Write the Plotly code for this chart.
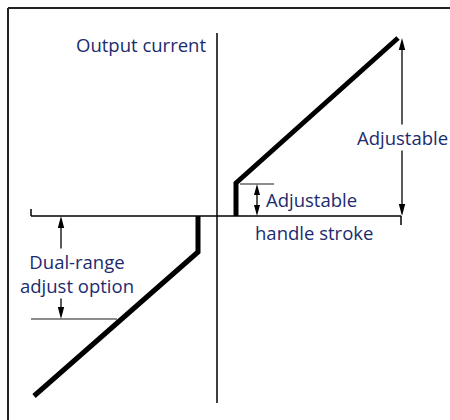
import plotly.graph_objects as go

# Logical coordinates: x = handle stroke, y = output current (origin at axes crossing)
upper_stroke = [19, 19, 181]
upper_current = [0, 33, 178]
lower_stroke = [-19, -19, -183]
lower_current = [0, -36, -180]

h_axis_x = [-186, 184]
v_axis_y = [-187, 183]

adj_big_x = 185
adj_big_y = [0, 178]
adj_small_x = 40
adj_small_y = [0, 32]
dual_x = -156
dual_y = [0, -103]

TEXT = "#1b2b6e"
FONT = "Open Sans"
FSIZE = 18.5

fig = go.Figure()

fig.add_trace(go.Scatter(x=upper_stroke, y=upper_current, mode="lines",
                         line=dict(color="black", width=5), hoverinfo="skip"))
fig.add_trace(go.Scatter(x=lower_stroke, y=lower_current, mode="lines",
                         line=dict(color="black", width=5), hoverinfo="skip"))

shapes = []
def line(x0, y0, x1, y1, color="black", width=1.5):
    shapes.append(dict(type="line", xref="x", yref="y", x0=x0, y0=y0, x1=x1, y1=y1,
                       line=dict(color=color, width=width), layer="below"))

# frame
line(-209, 208, 233, 208, "#222", 2)
line(-209, 208, -209, -204, "#222", 2)
# axes
line(h_axis_x[0], 0, h_axis_x[1], 0)
line(h_axis_x[0], 0, h_axis_x[0], 7)
line(h_axis_x[1], 0, h_axis_x[1], -9)
line(0, v_axis_y[0], 0, v_axis_y[1])
# guide lines
line(23, adj_small_y[1], 57, adj_small_y[1], "#666", 1.3)
line(h_axis_x[0], dual_y[1], -100, dual_y[1], "#666", 1.3)

def darrow(x, y0, y1, head=12, hw=3.2):
    d = 1 if y1 > y0 else -1
    line(x, y0 + d * (head - 2), x, y1 - d * (head - 2), "black", 1.3)
    for tip, dd in ((y1, d), (y0, -d)):
        base = tip - dd * head
        shapes.append(dict(type="path", xref="x", yref="y",
                           path=f"M {x},{tip} L {x - hw},{base} L {x + hw},{base} Z",
                           fillcolor="black", line=dict(width=0), layer="below"))

darrow(adj_big_x, adj_big_y[0], adj_big_y[1])
darrow(adj_small_x, adj_small_y[0], adj_small_y[1], head=11, hw=3)
darrow(dual_x, dual_y[0], dual_y[1])

annotations = []
def label(x, y, text, xanchor="center", bg=None):
    annotations.append(dict(x=x, y=y, xref="x", yref="y", text=text, showarrow=False,
                            xanchor=xanchor, yanchor="middle",
                            font=dict(family=FONT, size=FSIZE, color=TEXT),
                            bgcolor=bg, borderpad=0))

label(-10, 172, "Output current", xanchor="right")
label(adj_big_x, 79, "Adjustable", bg="white")
label(48, 17, "Adjustable", xanchor="left")
label(37, -16, "handle stroke", xanchor="left")
label(-140, -57, "Dual-range<br>adjust option", bg="white")

fig.update_layout(
    width=450, height=420,
    margin=dict(l=0, r=0, t=0, b=0),
    paper_bgcolor="white", plot_bgcolor="white",
    showlegend=False,
    xaxis=dict(range=[-217, 233], visible=False, fixedrange=True),
    yaxis=dict(range=[-204, 216], visible=False, fixedrange=True),
    shapes=shapes, annotations=annotations,
)

fig.write_html("out.html", config={"displayModeBar": False},
               post_script="document.body.style.margin='0';document.body.style.overflow='hidden';")
